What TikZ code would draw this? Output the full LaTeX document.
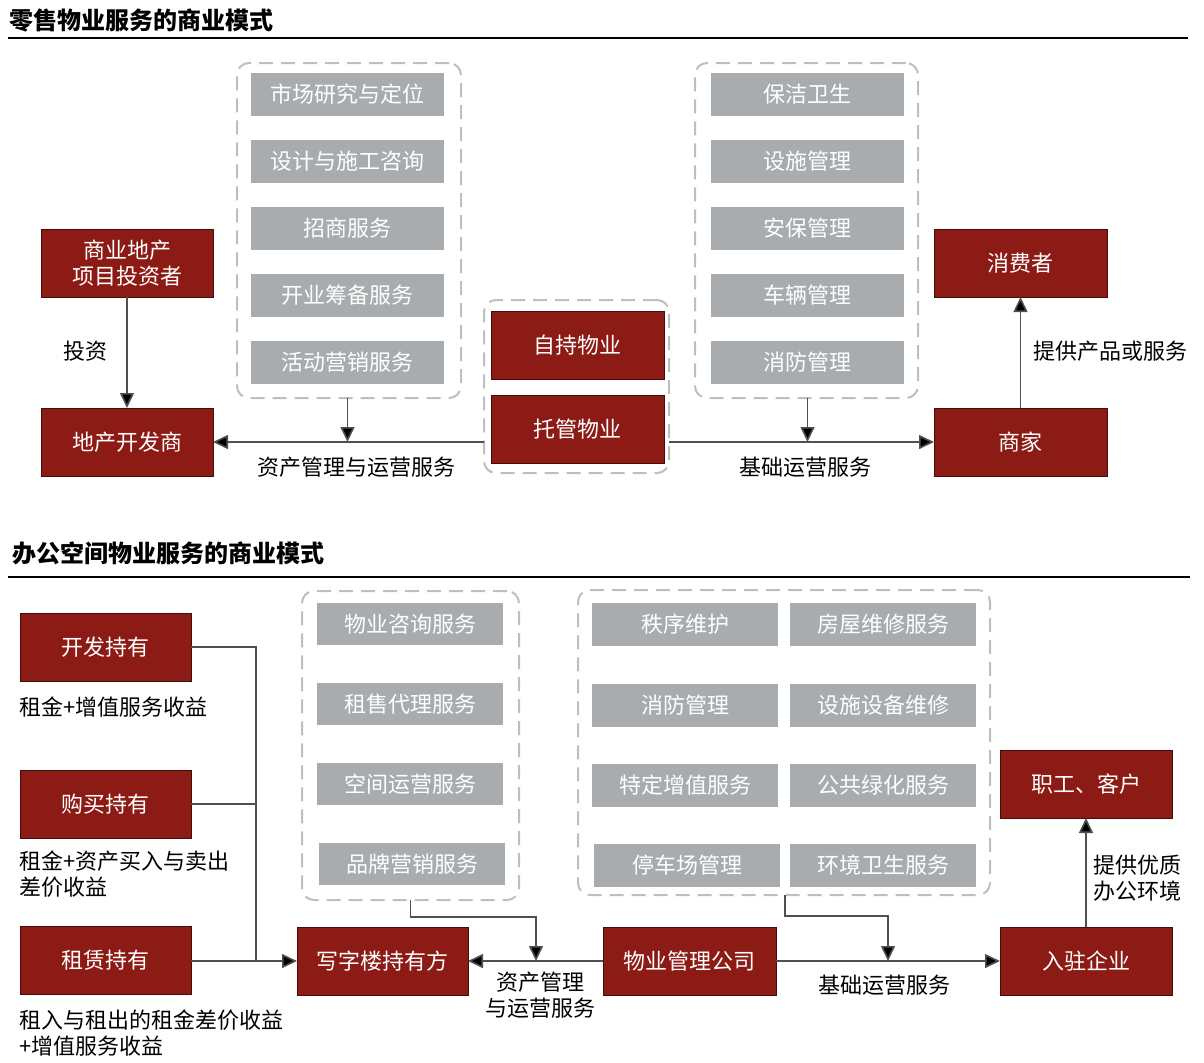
\documentclass[tikz,border=0pt]{standalone}
\usepackage{fontspec}
\setmainfont{Noto Sans CJK SC}
\usetikzlibrary{arrows.meta}
\definecolor{boxred}{RGB}{139,27,20}
\definecolor{boxredline}{RGB}{70,12,8}
\definecolor{boxgray}{RGB}{168,172,174}
\definecolor{dashgray}{RGB}{190,190,190}
\definecolor{linegray}{RGB}{80,80,80}
\tikzset{
  redbox/.style={draw=boxredline,line width=0.5pt,fill=boxred,text=white,inner sep=0pt,outer sep=0pt,
    minimum width=86pt,minimum height=34pt,align=center,font=\fontsize{11}{13}\selectfont},
  graybox/.style={fill=boxgray,text=white,inner sep=0pt,outer sep=0pt,minimum height=21.5pt,
    font=\fontsize{11}{13}\selectfont},
  dashbox/.style={draw=dashgray,line width=1pt,dash pattern=on 7pt off 4pt,rounded corners=6pt,
    inner sep=0pt,outer sep=0pt},
  lbl/.style={font=\fontsize{11}{13}\selectfont,inner sep=0pt,align=left},
  conn/.style={draw=linegray,line width=0.8pt},
  arr/.style={conn,-{Triangle[length=7.5pt,width=7pt,fill=black]}},
  ttl/.style={font=\fontsize{12}{14}\selectfont\bfseries,anchor=west,inner sep=0pt},
}
\begin{document}
\begin{tikzpicture}[x=0.5pt,y=-0.5pt]
\useasboundingbox (0,0) rectangle (1204,1062);
% ---------- top section ----------
\node[ttl] (t1) at (9,20) {零售物业服务的商业模式};
\draw[line width=1pt] (8,38) -- (1188,38);

\node[dashbox,minimum width=112pt,minimum height=167.5pt] (d1) at (349,230.5) {};
\node[dashbox,minimum width=92.5pt,minimum height=86.5pt] (d2) at (576.5,386.5) {};
\node[dashbox,minimum width=111.5pt,minimum height=167.5pt] (d3) at (806.5,230.5) {};

\node[graybox,minimum width=96.5pt] (g1) at (347.5,94.5) {市场研究与定位};
\node[graybox,minimum width=96.5pt] (g2) at (347.5,161.5) {设计与施工咨询};
\node[graybox,minimum width=96.5pt] (g3) at (347.5,228) {招商服务};
\node[graybox,minimum width=96.5pt] (g4) at (347.5,295) {开业筹备服务};
\node[graybox,minimum width=96.5pt] (g5) at (347.5,362) {活动营销服务};

\node[graybox,minimum width=96.5pt] (h1) at (807.5,94.5) {保洁卫生};
\node[graybox,minimum width=96.5pt] (h2) at (807.5,161.5) {设施管理};
\node[graybox,minimum width=96.5pt] (h3) at (807.5,228) {安保管理};
\node[graybox,minimum width=96.5pt] (h4) at (807.5,295) {车辆管理};
\node[graybox,minimum width=96.5pt] (h5) at (807.5,362) {消防管理};

\node[redbox] (inv) at (127,263) {商业地产\\项目投资者};
\node[redbox] (dev) at (127,442) {地产开发商};
\node[redbox,minimum width=86.5pt] (self) at (577.5,345) {自持物业};
\node[redbox,minimum width=86.5pt] (trust) at (577.5,429) {托管物业};
\node[redbox,minimum width=86.5pt] (cons) at (1020.5,263) {消费者};
\node[redbox,minimum width=86.5pt] (merch) at (1020.5,442) {商家};

\draw[arr] (inv) -- (dev);
\node[lbl] (l1) at (85,351) {投资};
\draw[arr] (d2.west |- dev.east) -- (dev.east);
\draw[arr] (d1.south -| g5) -- (g5 |- dev.east);
\node[lbl] (l2) at (356,467) {资产管理与运营服务};
\draw[arr] (d2.east |- merch.west) -- (merch.west);
\draw[arr] (d3.south -| h5) -- (h5 |- merch.west);
\node[lbl] (l3) at (805,467) {基础运营服务};
\draw[arr] (merch) -- (cons);
\node[lbl] (l4) at (1110,351) {提供产品或服务};

% ---------- bottom section ----------
\node[ttl] (t2) at (12,553) {办公空间物业服务的商业模式};
\draw[line width=1pt] (8,577) -- (1190,577);

\node[dashbox,minimum width=108.5pt,minimum height=154.5pt] (da) at (410.5,745.5) {};
\node[dashbox,minimum width=206pt,minimum height=152.5pt] (db) at (784,742.5) {};

\node[graybox,minimum width=93pt,minimum height=21pt] (a1) at (410,624) {物业咨询服务};
\node[graybox,minimum width=93pt,minimum height=21pt] (a2) at (410,704) {租售代理服务};
\node[graybox,minimum width=93pt,minimum height=21pt] (a3) at (410,784) {空间运营服务};
\node[graybox,minimum width=93pt,minimum height=21pt] (a4) at (412,864) {品牌营销服务};

\node[graybox,minimum width=93pt] (b1) at (685,624.5) {秩序维护};
\node[graybox,minimum width=93pt] (b2) at (883,624.5) {房屋维修服务};
\node[graybox,minimum width=93pt] (b3) at (685,705) {消防管理};
\node[graybox,minimum width=93pt] (b4) at (883,705) {设施设备维修};
\node[graybox,minimum width=93pt] (b5) at (685,785) {特定增值服务};
\node[graybox,minimum width=93pt] (b6) at (883,785) {公共绿化服务};
\node[graybox,minimum width=93pt] (b7) at (687,865) {停车场管理};
\node[graybox,minimum width=93pt] (b8) at (883,865) {环境卫生服务};

\node[redbox,minimum width=85.5pt] (kf) at (105.5,647) {开发持有};
\node[redbox,minimum width=85.5pt] (gm) at (105.5,804) {购买持有};
\node[redbox,minimum width=85.5pt] (zl) at (105.5,960) {租赁持有};
\node[lbl,anchor=west] (k1) at (19,707) {租金+增值服务收益};
\node[lbl,anchor=west] (k2) at (19,874.5) {租金+资产买入与卖出\\差价收益};
\node[lbl,anchor=west] (k3) at (19,1033) {租入与租出的租金差价收益\\+增值服务收益};

\node[redbox,minimum width=85.5pt] (own) at (382.5,961) {写字楼持有方};
\node[redbox,minimum width=86.5pt] (pm) at (689.5,961) {物业管理公司};
\node[redbox] (ent) at (1086,961) {入驻企业};
\node[redbox] (staff) at (1086,784) {职工、客户};

\coordinate (bx) at (256,961);
\draw[conn] (kf.east) -| (bx);
\draw[conn] (gm.east) -- (gm.east -| bx);
\draw[arr] (zl.east |- own.west) -- (own.west);

\coordinate (ja) at (536,961);
\coordinate (jb) at (888,961);
\draw[arr] (pm.west) -- (own.east);
\draw[arr] (da.south) -- ++(0,17) -| (ja);
\node[lbl,align=center] (m1) at (540,995.5) {资产管理\\与运营服务};
\draw[arr] (pm.east) -- (ent.west);
\draw[arr] (db.south -| 785,0) -- ++(0,21) -| (jb);
\node[lbl] (m2) at (884,985) {基础运营服务};
\draw[arr] (ent) -- (staff);
\node[lbl] (m3) at (1137,878.5) {提供优质\\办公环境};
\end{tikzpicture}
\end{document}
